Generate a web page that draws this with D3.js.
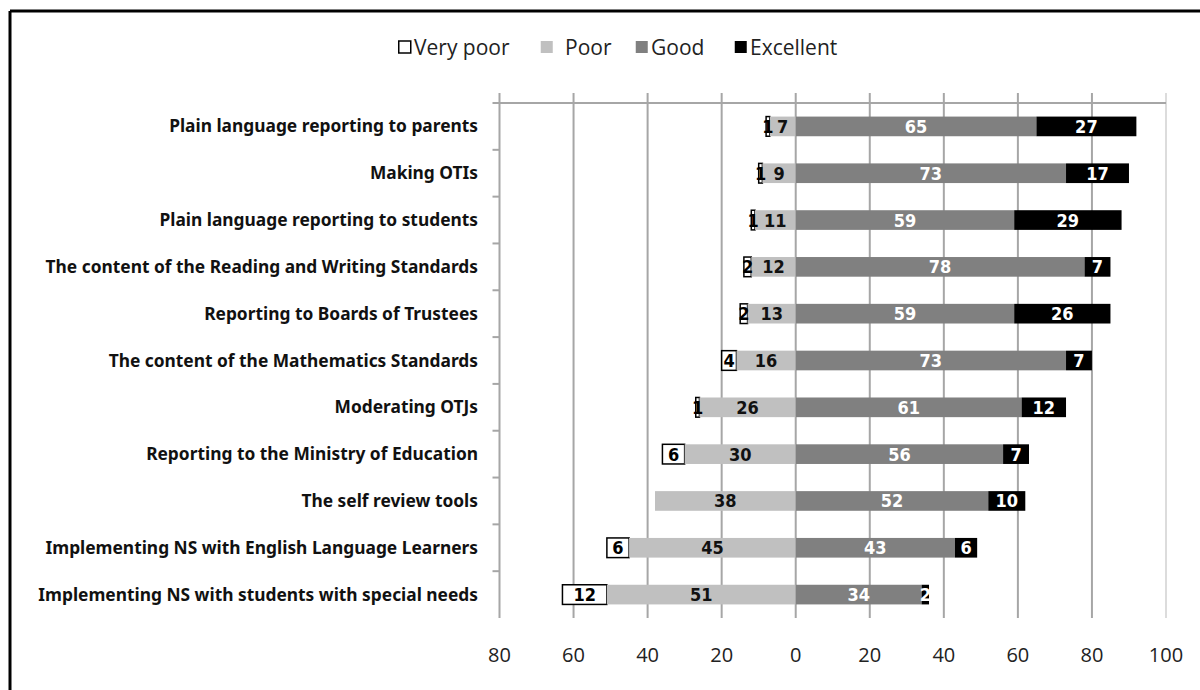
<!DOCTYPE html>
<html>
<head>
<meta charset="utf-8">
<script src="https://cdn.jsdelivr.net/npm/d3@7"></script>
<style>
  body { margin: 0; background: #fff; }
  svg { display: block; }
</style>
</head>
<body>
<div id="chart"></div>
<script>
// categories, top to bottom
var categories = [
  "Plain language reporting to parents",
  "Making OTIs",
  "Plain language reporting to students",
  "The content of the Reading and Writing Standards",
  "Reporting to Boards of Trustees",
  "The content of the Mathematics Standards",
  "Moderating OTJs",
  "Reporting to the Ministry of Education",
  "The self review tools",
  "Implementing NS with English Language Learners",
  "Implementing NS with students with special needs"
];
// percentages for each rating
var veryPoor  = [1, 1, 1, 2, 2, 4, 1, 6, 0, 6, 12];
var poor      = [7, 9, 11, 12, 13, 16, 26, 30, 38, 45, 51];
var good      = [65, 73, 59, 78, 59, 73, 61, 56, 52, 43, 34];
var excellent = [27, 17, 29, 7, 26, 7, 12, 7, 10, 6, 2];

var seriesNames = ["Very poor", "Poor", "Good", "Excellent"];
var xTicks = [-80, -60, -40, -20, 0, 20, 40, 60, 80, 100];

var W = 1200, H = 690;
var svg = d3.select("#chart").append("svg")
    .attr("width", W)
    .attr("height", H);

// outer frame (left and top edges visible)
svg.append("line").attr("x1", 10).attr("y1", 11).attr("x2", 10).attr("y2", H)
    .attr("stroke", "#000").attr("stroke-width", 3);
svg.append("line").attr("x1", 10).attr("y1", 11).attr("x2", W).attr("y2", 11)
    .attr("stroke", "#000").attr("stroke-width", 3);

var plotTop = 103, plotBottom = 618;

var x = d3.scaleLinear()
    .domain([-80, 100])
    .range([499.5, 1166]);

var y = d3.scaleBand()
    .domain(categories)
    .range([plotTop, plotBottom])
    .paddingInner(0.58)
    .paddingOuter(0.29);

var color = d3.scaleOrdinal()
    .domain(seriesNames)
    .range(["#ffffff", "#c0c0c0", "#808080", "#000000"]);
var textColor = d3.scaleOrdinal()
    .domain(seriesNames)
    .range(["#000", "#111", "#fff", "#fff"]);

// vertical gridlines
svg.append("g")
  .selectAll("line")
  .data(xTicks)
  .enter()
  .append("line")
    .attr("x1", function(d) { return x(d); })
    .attr("x2", function(d) { return x(d); })
    .attr("y1", 93)
    .attr("y2", plotBottom)
    .attr("stroke", function(d) { return d === 100 ? "#dcdcdc" : "#a6a6a6"; })
    .attr("stroke-width", 2);

// top horizontal line
svg.append("line")
    .attr("x1", x(-80) - 7).attr("x2", x(100))
    .attr("y1", plotTop).attr("y2", plotTop)
    .attr("stroke", "#a6a6a6").attr("stroke-width", 2);

// category tick marks on the left axis
var step = y.step();
svg.append("g")
  .selectAll("line")
  .data(categories.slice(1))
  .enter()
  .append("line")
    .attr("x1", x(-80) - 7).attr("x2", x(-80))
    .attr("y1", function(d) { return y(d) - step * y.paddingInner() / 2; })
    .attr("y2", function(d) { return y(d) - step * y.paddingInner() / 2; })
    .attr("stroke", "#a6a6a6").attr("stroke-width", 2);

// build stacked segments
var segs = [];
categories.forEach(function(c, i) {
  var left = -(veryPoor[i] + poor[i]);
  segs.push({cat: c, s: "Very poor", x0: left, x1: left + veryPoor[i], v: veryPoor[i]});
  segs.push({cat: c, s: "Poor", x0: -poor[i], x1: 0, v: poor[i]});
  segs.push({cat: c, s: "Good", x0: 0, x1: good[i], v: good[i]});
  segs.push({cat: c, s: "Excellent", x0: good[i], x1: good[i] + excellent[i], v: excellent[i]});
});
segs = segs.filter(function(d) { return d.v > 0; });

svg.append("g")
  .selectAll("rect")
  .data(segs)
  .enter()
  .append("rect")
    .attr("x", function(d) { return x(d.x0); })
    .attr("y", function(d) { return y(d.cat); })
    .attr("width", function(d) { return x(d.x1) - x(d.x0); })
    .attr("height", y.bandwidth())
    .attr("fill", function(d) { return color(d.s); })
    .attr("stroke", function(d) { return d.s === "Very poor" ? "#000" : "none"; })
    .attr("stroke-width", 1.5);

// value labels
svg.append("g")
  .selectAll("text")
  .data(segs)
  .enter()
  .append("text")
    .attr("x", function(d) { return (x(d.x0) + x(d.x1)) / 2; })
    .attr("y", function(d) { return y(d.cat) + y.bandwidth() / 2; })
    .attr("dy", "0.36em")
    .attr("text-anchor", "middle")
    .style("font-family", "'Liberation Sans Narrow', 'DejaVu Sans Condensed', sans-serif")
    .style("font-weight", "bold")
    .style("font-size", "18px")
    .attr("fill", function(d) { return textColor(d.s); })
    .text(function(d) { return d.v; });

// category labels
var catLabels = svg.append("g")
  .selectAll("text")
  .data(categories)
  .enter()
  .append("text")
    .attr("x", 478)
    .attr("y", function(d) { return y(d) + y.bandwidth() / 2; })
    .attr("dy", "0.35em")
    .attr("text-anchor", "end")
    .style("font-family", "'Noto Sans', sans-serif")
    .style("font-weight", "bold")
    .style("font-size", "15px")
    .attr("fill", "#111")
    .text(function(d) { return d; });

// scale category font so the longest label spans as in the reference
var widest = d3.max(catLabels.nodes(), function(n) { return n.getComputedTextLength(); });
catLabels.style("font-size", (15 * 440 / widest).toFixed(2) + "px");

// bottom tick labels (absolute values)
svg.append("g")
  .selectAll("text")
  .data(xTicks)
  .enter()
  .append("text")
    .attr("x", function(d) { return x(d); })
    .attr("y", 662)
    .attr("text-anchor", "middle")
    .style("font-family", "'Open Sans', sans-serif")
    .style("font-size", "20px")
    .attr("fill", "#222")
    .text(function(d) { return Math.abs(d); });

// legend
var legendX = [398, 540, 635, 734];
var legend = svg.append("g")
  .selectAll("g")
  .data(seriesNames)
  .enter()
  .append("g")
    .attr("transform", function(d, i) { return "translate(" + legendX[i] + ",0)"; });
legend.append("rect")
    .attr("x", 0.75).attr("y", 41)
    .attr("width", 12).attr("height", 12)
    .attr("fill", function(d) { return color(d); })
    .attr("stroke", function(d) { return d === "Very poor" ? "#000" : "none"; })
    .attr("stroke-width", 1.5);
legend.append("text")
    .attr("x", function(d) { return d === "Poor" ? 25 : 16; })
    .attr("y", 55)
    .style("font-family", "'Open Sans', sans-serif")
    .style("font-size", "21px")
    .attr("fill", "#222")
    .text(function(d) { return d; });
</script>
</body>
</html>
